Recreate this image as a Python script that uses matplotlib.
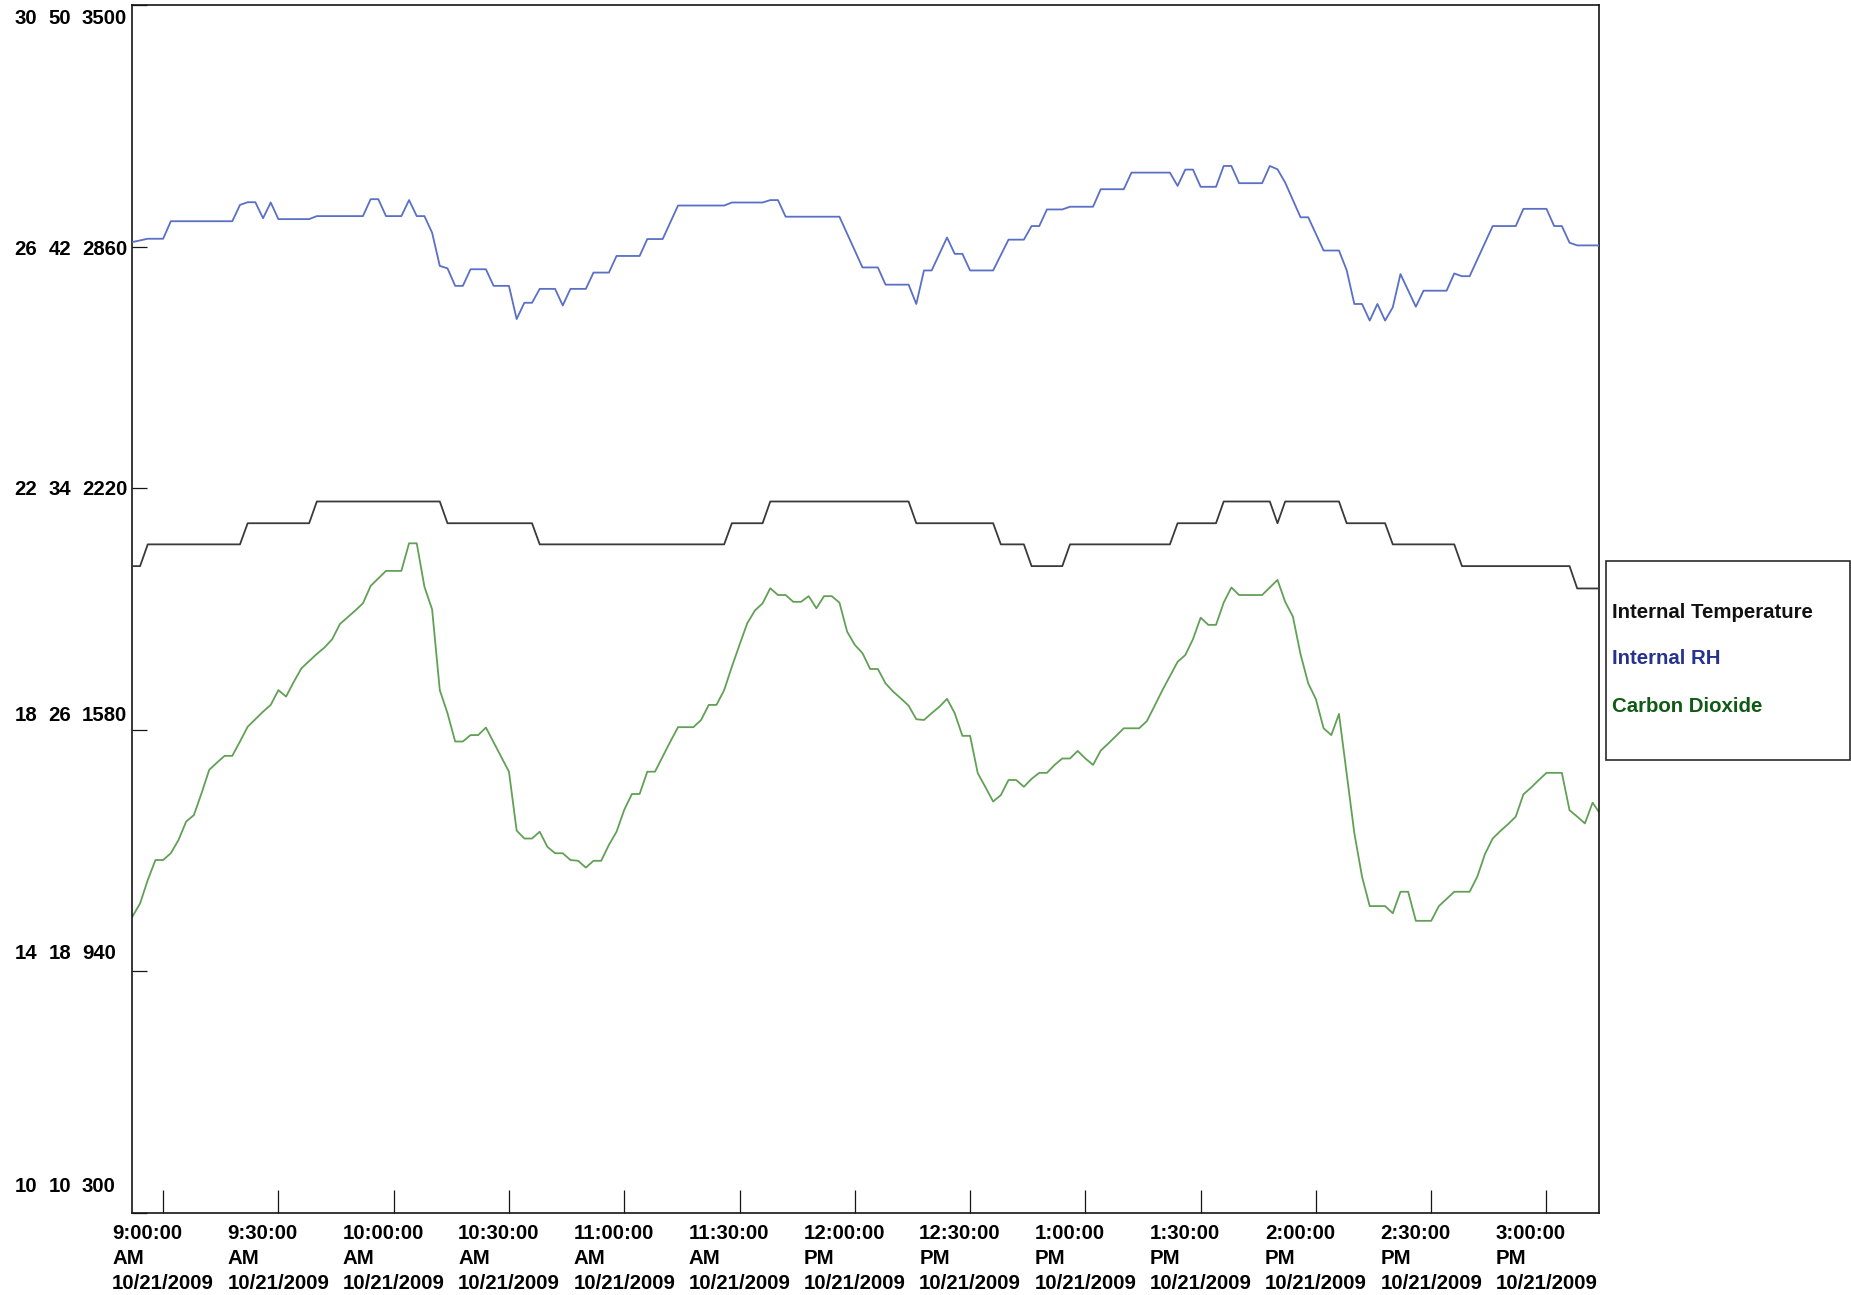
import matplotlib
matplotlib.use("Agg")
import matplotlib.pyplot as plt
import matplotlib.transforms as mtransforms
from matplotlib.patches import Rectangle
import pandas as pd

DAY = "2009-10-21"

# ---- logged readings (time stamps where the trace changes) ----
temp_times = ["08:52", "08:54", "08:56", "09:20", "09:22", "09:38", "09:40", "10:12",
              "10:14", "10:36", "10:38", "11:26", "11:28", "11:36", "11:38", "12:14",
              "12:16", "12:36", "12:38", "12:44", "12:46", "12:54", "12:56", "13:22",
              "13:24", "13:34", "13:36", "13:48", "13:50", "13:52", "14:06", "14:08",
              "14:18", "14:20", "14:36", "14:38", "15:06", "15:08", "15:14"]
temp_values = [20.71, 20.71, 21.07, 21.07, 21.42, 21.42, 21.78, 21.78,
               21.42, 21.42, 21.07, 21.07, 21.42, 21.42, 21.78, 21.78,
               21.42, 21.42, 21.07, 21.07, 20.71, 20.71, 21.07, 21.07,
               21.42, 21.42, 21.78, 21.78, 21.42, 21.78, 21.78, 21.42,
               21.42, 21.07, 21.07, 20.71, 20.71, 20.34, 20.34]

rh_times = ["08:52", "08:56", "09:00", "09:02", "09:18", "09:20", "09:22", "09:24",
            "09:26", "09:28", "09:30", "09:38", "09:40", "09:52", "09:54", "09:56",
            "09:58", "10:02", "10:04", "10:06", "10:08", "10:10", "10:12", "10:14",
            "10:16", "10:18", "10:20", "10:24", "10:26", "10:30", "10:32", "10:34",
            "10:36", "10:38", "10:42", "10:44", "10:46", "10:50", "10:52", "10:56",
            "10:58", "11:04", "11:06", "11:10", "11:14", "11:26", "11:28", "11:36",
            "11:38", "11:40", "11:42", "11:56", "12:02", "12:06", "12:08", "12:14",
            "12:16", "12:18", "12:20", "12:24", "12:26", "12:28", "12:30", "12:36",
            "12:40", "12:44", "12:46", "12:48", "12:50", "12:54", "12:56", "13:02",
            "13:04", "13:10", "13:12", "13:22", "13:24", "13:26", "13:28", "13:30",
            "13:34", "13:36", "13:38", "13:40", "13:46", "13:48", "13:50", "13:52",
            "13:56", "13:58", "14:02", "14:06", "14:08", "14:10", "14:12", "14:14",
            "14:16", "14:18", "14:20", "14:22", "14:26", "14:28", "14:34", "14:36",
            "14:38", "14:40", "14:46", "14:52", "14:54", "15:00", "15:02", "15:04",
            "15:06", "15:08", "15:14"]
rh_values = [42.15, 42.26, 42.26, 42.84, 42.84, 43.38, 43.47, 43.47,
             42.94, 43.46, 42.91, 42.91, 43.01, 43.01, 43.57, 43.57,
             43.01, 43.01, 43.54, 43.01, 43.01, 42.46, 41.36, 41.28,
             40.70, 40.70, 41.25, 41.25, 40.70, 40.70, 39.60, 40.14,
             40.14, 40.60, 40.60, 40.05, 40.60, 40.60, 41.14, 41.14,
             41.69, 41.69, 42.25, 42.25, 43.36, 43.36, 43.46, 43.46,
             43.54, 43.54, 42.99, 42.99, 41.31, 41.31, 40.74, 40.74,
             40.10, 41.21, 41.21, 42.30, 41.76, 41.76, 41.21, 41.21,
             42.23, 42.23, 42.68, 42.68, 43.23, 43.23, 43.32, 43.32,
             43.90, 43.90, 44.45, 44.45, 44.01, 44.55, 44.55, 43.98,
             43.98, 44.67, 44.67, 44.10, 44.10, 44.67, 44.56, 44.12,
             42.97, 42.97, 41.87, 41.87, 41.22, 40.10, 40.10, 39.55,
             40.10, 39.55, 39.99, 41.09, 40.01, 40.54, 40.54, 41.11,
             41.02, 41.02, 42.68, 42.68, 43.25, 43.25, 42.68, 42.68,
             42.13, 42.04, 42.04]

co2_times = ["08:52", "08:54", "08:56", "08:58", "09:00", "09:02", "09:04", "09:06",
             "09:08", "09:10", "09:12", "09:14", "09:16", "09:18", "09:20", "09:22",
             "09:24", "09:26", "09:28", "09:30", "09:32", "09:34", "09:36", "09:38",
             "09:40", "09:42", "09:44", "09:46", "09:48", "09:50", "09:52", "09:54",
             "09:56", "09:58", "10:02", "10:04", "10:06", "10:08", "10:10", "10:12",
             "10:14", "10:16", "10:18", "10:20", "10:22", "10:24", "10:30", "10:32",
             "10:34", "10:36", "10:38", "10:40", "10:42", "10:44", "10:46", "10:48",
             "10:50", "10:52", "10:54", "10:56", "10:58", "11:00", "11:02", "11:04",
             "11:06", "11:08", "11:10", "11:12", "11:14", "11:18", "11:20", "11:22",
             "11:24", "11:26", "11:28", "11:30", "11:32", "11:34", "11:36", "11:38",
             "11:40", "11:42", "11:44", "11:46", "11:48", "11:50", "11:52", "11:54",
             "11:56", "11:58", "12:00", "12:02", "12:04", "12:06", "12:08", "12:10",
             "12:12", "12:14", "12:16", "12:18", "12:20", "12:22", "12:24", "12:26",
             "12:28", "12:30", "12:32", "12:34", "12:36", "12:38", "12:40", "12:42",
             "12:44", "12:46", "12:48", "12:50", "12:52", "12:54", "12:56", "12:58",
             "13:00", "13:02", "13:04", "13:06", "13:08", "13:10", "13:14", "13:16",
             "13:18", "13:20", "13:22", "13:24", "13:26", "13:28", "13:30", "13:32",
             "13:34", "13:36", "13:38", "13:40", "13:46", "13:50", "13:52", "13:54",
             "13:56", "13:58", "14:00", "14:02", "14:04", "14:06", "14:08", "14:10",
             "14:12", "14:14", "14:18", "14:20", "14:22", "14:24", "14:26", "14:30",
             "14:32", "14:34", "14:36", "14:40", "14:42", "14:44", "14:46", "14:48",
             "14:50", "14:52", "14:54", "14:56", "14:58", "15:00", "15:04", "15:06",
             "15:08", "15:10", "15:12", "15:14"]
co2_values = [1085, 1120, 1182, 1235, 1235, 1253, 1288, 1337,
              1354, 1412, 1474, 1493, 1511, 1511, 1549, 1588,
              1608, 1628, 1646, 1685, 1668, 1707, 1743, 1762,
              1781, 1798, 1820, 1860, 1878, 1896, 1915, 1961,
              1981, 2001, 2001, 2074, 2074, 1959, 1899, 1685,
              1624, 1549, 1549, 1566, 1566, 1586, 1469, 1313,
              1292, 1292, 1310, 1270, 1253, 1253, 1235, 1233,
              1215, 1233, 1233, 1275, 1310, 1368, 1410, 1410,
              1469, 1469, 1509, 1549, 1587, 1587, 1606, 1646,
              1646, 1685, 1747, 1805, 1862, 1896, 1915, 1955,
              1937, 1937, 1919, 1919, 1934, 1902, 1934, 1934,
              1917, 1840, 1805, 1783, 1741, 1741, 1703, 1681,
              1663, 1644, 1608, 1606, 1624, 1641, 1662, 1624,
              1564, 1564, 1465, 1428, 1390, 1407, 1447, 1447,
              1429, 1450, 1466, 1466, 1487, 1504, 1504, 1524,
              1504, 1487, 1525, 1544, 1564, 1584, 1584, 1603,
              1643, 1684, 1722, 1760, 1778, 1820, 1877, 1858,
              1858, 1917, 1957, 1937, 1937, 1977, 1919, 1880,
              1780, 1703, 1661, 1584, 1566, 1622, 1465, 1306,
              1191, 1113, 1113, 1094, 1151, 1151, 1074, 1074,
              1113, 1132, 1151, 1151, 1191, 1251, 1292, 1312,
              1330, 1350, 1409, 1427, 1447, 1466, 1466, 1367,
              1350, 1332, 1387, 1357]

# ---- scales shared by the three traces ----
temp_ticks = [10, 14, 18, 22, 26, 30]
rh_ticks = [10, 18, 26, 34, 42, 50]
co2_ticks = [300, 940, 1580, 2220, 2860, 3500]
tick_times = ["09:00", "09:30", "10:00", "10:30", "11:00", "11:30", "12:00",
              "12:30", "13:00", "13:30", "14:00", "14:30", "15:00"]
series_names = ["Internal Temperature", "Internal RH", "Carbon Dioxide"]

FS = 14.7


def stamp(clock):
    return pd.to_datetime([f"{DAY} {c}" for c in clock])


def clock_label(t):
    return f"{t.hour % 12 or 12}:{t:%M:%S}\n{t:%p}\n{t:%m/%d/%Y}"


plt.rcParams["font.family"] = ["Liberation Sans", "DejaVu Sans"]
plt.rcParams["font.weight"] = "bold"

W, H = 1851, 1295
fig = plt.figure(figsize=(W / 100, H / 100), dpi=100)
fig.patch.set_facecolor("white")

L, R, T, B = 132, 1599, 5, 1213
ax = fig.add_axes([L / W, 1 - B / H, (R - L) / W, (B - T) / H])
ax_t = ax.twinx()
ax_rh = ax.twinx()

ax_t.plot(stamp(temp_times), temp_values, color="#3a3a3a", lw=1.3)
ax_rh.plot(stamp(rh_times), rh_values, color="#5a6fc6", lw=1.3)
ax.plot(stamp(co2_times), co2_values, color="#62a056", lw=1.3)

ax.set_xlim(pd.Timestamp(f"{DAY} 08:51:54"), pd.Timestamp(f"{DAY} 15:13:40"))
ax.set_ylim(co2_ticks[0], co2_ticks[-1])
ax_t.set_ylim(temp_ticks[0], temp_ticks[-1])
ax_rh.set_ylim(rh_ticks[0], rh_ticks[-1])

for s in ax.spines.values():
    s.set_color("#151515")
    s.set_linewidth(1.2)
for a in (ax_t, ax_rh):
    for s in a.spines.values():
        s.set_visible(False)

# x axis: ticks every half hour, three-line labels
xt = stamp(tick_times)
ax.set_xticks(xt)
ax.set_xticklabels([clock_label(t) for t in xt], linespacing=1.38,
                   multialignment="left")
ax.tick_params(axis="x", direction="in", length=16.5, width=0.9,
               pad=8.0, labelsize=FS, color="#151515")

# y axis: three label columns (temperature, RH, CO2) on the left side
ax.set_yticks(co2_ticks)
ax.set_yticklabels([str(v) for v in co2_ticks])
ax.tick_params(axis="y", direction="in", length=10.8, width=0.9, pad=36,
               labelsize=FS, color="#151515")
for a, ticks, pad in ((ax_t, temp_ticks, 84.5), (ax_rh, rh_ticks, 60)):
    a.yaxis.tick_left()
    a.set_yticks(ticks)
    a.set_yticklabels([str(v) for v in ticks])
    a.tick_params(axis="y", direction="in", length=0, pad=pad, labelsize=FS)

label_rise_px = [29, 20, 16, 1, -1, -12]
for a in (ax, ax_t, ax_rh):
    for lab, dy in zip(a.get_yticklabels(), label_rise_px):
        lab.set_horizontalalignment("left")
        lab.set_transform(lab.get_transform() +
                          mtransforms.ScaledTranslation(0, dy / 100, fig.dpi_scale_trans))

# key box at the right
fig.add_artist(Rectangle((1606 / W, 1 - 760 / H), 244 / W, 199 / H,
                         transform=fig.transFigure, facecolor="white",
                         edgecolor="#2a2a2a", linewidth=1.2))
key_colors = ["#111111", "#27328f", "#0f5a14"]
for name, col, yc in zip(series_names, key_colors, [612, 659, 707]):
    fig.text(1612 / W, 1 - yc / H, name, color=col, fontsize=FS,
             fontweight="bold", ha="left", va="center")

fig.savefig("out.png", dpi=100, facecolor="white")
